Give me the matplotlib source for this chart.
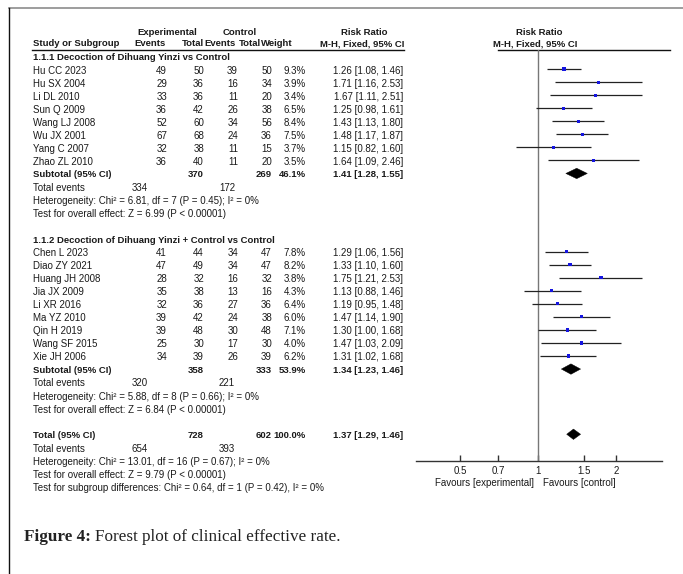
import matplotlib
matplotlib.use("Agg")
import matplotlib.pyplot as plt
import numpy as np

# ---- data ----
group1_title = "1.1.1 Decoction of Dihuang Yinzi vs Control"
g1_studies = ["Hu CC 2023", "Hu SX 2004", "Li DL 2010", "Sun Q 2009",
              "Wang LJ 2008", "Wu JX 2001", "Yang C 2007", "Zhao ZL 2010"]
g1_exp_events = [49, 29, 33, 36, 52, 67, 32, 36]
g1_exp_total = [50, 36, 36, 42, 60, 68, 38, 40]
g1_ctl_events = [39, 16, 11, 26, 34, 24, 11, 11]
g1_ctl_total = [50, 34, 20, 38, 56, 36, 15, 20]
g1_weight = [9.3, 3.9, 3.4, 6.5, 8.4, 7.5, 3.7, 3.5]
g1_rr = [1.26, 1.71, 1.67, 1.25, 1.43, 1.48, 1.15, 1.64]
g1_lo = [1.08, 1.16, 1.11, 0.98, 1.13, 1.17, 0.82, 1.09]
g1_hi = [1.46, 2.53, 2.51, 1.61, 1.80, 1.87, 1.60, 2.46]
g1_sub = (370, 269, 46.1, 1.41, 1.28, 1.55)
g1_events = (334, 172)
g1_het = "Heterogeneity: Chi\u00b2 = 6.81, df = 7 (P = 0.45); I\u00b2 = 0%"
g1_test = "Test for overall effect: Z = 6.99 (P < 0.00001)"

group2_title = "1.1.2 Decoction of Dihuang Yinzi + Control vs Control"
g2_studies = ["Chen L 2023", "Diao ZY 2021", "Huang JH 2008", "Jia JX 2009",
              "Li XR 2016", "Ma YZ 2010", "Qin H 2019", "Wang SF 2015", "Xie JH 2006"]
g2_exp_events = [41, 47, 28, 35, 32, 39, 39, 25, 34]
g2_exp_total = [44, 49, 32, 38, 36, 42, 48, 30, 39]
g2_ctl_events = [34, 34, 16, 13, 27, 24, 30, 17, 26]
g2_ctl_total = [47, 47, 32, 16, 36, 38, 48, 30, 39]
g2_weight = [7.8, 8.2, 3.8, 4.3, 6.4, 6.0, 7.1, 4.0, 6.2]
g2_rr = [1.29, 1.33, 1.75, 1.13, 1.19, 1.47, 1.30, 1.47, 1.31]
g2_lo = [1.06, 1.10, 1.21, 0.88, 0.95, 1.14, 1.00, 1.03, 1.02]
g2_hi = [1.56, 1.60, 2.53, 1.46, 1.48, 1.90, 1.68, 2.09, 1.68]
g2_sub = (358, 333, 53.9, 1.34, 1.23, 1.46)
g2_events = (320, 221)
g2_het = "Heterogeneity: Chi\u00b2 = 5.88, df = 8 (P = 0.66); I\u00b2 = 0%"
g2_test = "Test for overall effect: Z = 6.84 (P < 0.00001)"

total_sub = (728, 602, 100.0, 1.37, 1.29, 1.46)
total_events = (654, 393)
total_het = "Heterogeneity: Chi\u00b2 = 13.01, df = 16 (P = 0.67); I\u00b2 = 0%"
total_test = "Test for overall effect: Z = 9.79 (P < 0.00001)"
subgroup_test = "Test for subgroup differences: Chi\u00b2 = 0.64, df = 1 (P = 0.42), I\u00b2 = 0%"

tick_vals = [0.5, 0.7, 1, 1.5, 2]
tick_labels = ["0.5", "0.7", "1", "1.5", "2"]

# ---- layout (pixels) ----
W, H = 683, 574
ROW0, ROWH = 56.1, 13.04
FS = 7.0
FSB = 6.8
TXT = "#1a1a1a"
plt.rcParams["font.family"] = ["Liberation Sans", "DejaVu Sans"]


def ypx(r):
    return ROW0 + ROWH * r


fig = plt.figure(figsize=(W / 100, H / 100), dpi=100)
fig.patch.set_facecolor("white")
tx = fig.add_axes([0, 0, 1, 1])
tx.set_xlim(0, W)
tx.set_ylim(H, 0)
tx.axis("off")


def t(x, r, s, ha="left", bold=False, dy=1.4):
    tx.text(x, ypx(r) + dy, s, ha=ha, va="center",
            fontsize=FSB if bold else FS, color=TXT,
            fontweight="bold" if bold else "normal")


# frame
tx.plot([9, W], [7.5, 7.5], color="#8c8c8c", lw=1.2)
tx.plot([9, 9], [7.5, H], color="#111111", lw=1.0)

# headers
t(167, -1.9, "Experimental", ha="center", bold=True)
t(240, -1.9, "Control", ha="center", bold=True)
t(364, -1.9, "Risk Ratio", ha="center", bold=True)
t(539, -1.9, "Risk Ratio", ha="center", bold=True)
t(33, -1.05, "Study or Subgroup", bold=True)
t(166, -1.05, "Events", ha="right", bold=True)
t(204, -1.05, "Total", ha="right", bold=True)
t(236, -1.05, "Events", ha="right", bold=True)
t(261, -1.05, "Total", ha="right", bold=True)
t(293, -1.05, "Weight", ha="right", bold=True)
t(404, -1.05, "M-H, Fixed, 95% CI", ha="right", bold=True)
t(535, -1.05, "M-H, Fixed, 95% CI", ha="center", bold=True)
tx.plot([32, 404], [49.6, 49.6], color="#111111", lw=1.0)
tx.plot([498, 670], [49.6, 49.6], color="#111111", lw=1.0)

# columns
COLS = [167, 204, 238, 272, 306]
CI_X = 403


def study_rows(r0, names, ee, et, ce, ct, wt, rr, lo, hi):
    for i, nm in enumerate(names):
        r = r0 + i
        t(33, r, nm)
        for x, v in zip(COLS, [ee[i], et[i], ce[i], ct[i]]):
            t(x, r, str(v), ha="right")
        t(COLS[4], r, f"{wt[i]:.1f}%", ha="right")
        t(CI_X, r, f"{rr[i]:.2f} [{lo[i]:.2f}, {hi[i]:.2f}]", ha="right")


def summary_rows(r, label, sub, events, het, test):
    t(33, r, label, bold=True)
    t(COLS[1], r, str(sub[0]), ha="right", bold=True)
    t(COLS[3], r, str(sub[1]), ha="right", bold=True)
    t(COLS[4], r, f"{sub[2]:.1f}%", ha="right", bold=True)
    t(CI_X, r, f"{sub[3]:.2f} [{sub[4]:.2f}, {sub[5]:.2f}]", ha="right", bold=True)
    t(33, r + 1, "Total events")
    t(148, r + 1, str(events[0]), ha="right")
    t(235, r + 1, str(events[1]), ha="right")
    t(33, r + 2, het)
    t(33, r + 3, test)


t(33, 0, group1_title, bold=True)
study_rows(1, g1_studies, g1_exp_events, g1_exp_total, g1_ctl_events,
           g1_ctl_total, g1_weight, g1_rr, g1_lo, g1_hi)
summary_rows(9, "Subtotal (95% CI)", g1_sub, g1_events, g1_het, g1_test)

t(33, 14, group2_title, bold=True)
study_rows(15, g2_studies, g2_exp_events, g2_exp_total, g2_ctl_events,
           g2_ctl_total, g2_weight, g2_rr, g2_lo, g2_hi)
summary_rows(24, "Subtotal (95% CI)", g2_sub, g2_events, g2_het, g2_test)

summary_rows(29, "Total (95% CI)", total_sub, total_events, total_het, total_test)
t(33, 33, subgroup_test)

# ---- forest panel ----
ax_left, ax_right = 416, 662
ax_top, ax_bot = 49.6, 460.7
fx = fig.add_axes([ax_left / W, 1 - ax_bot / H, (ax_right - ax_left) / W,
                   (ax_bot - ax_top) / H])
fx.patch.set_alpha(0)
fx.set_xscale("log")
fx.set_xlim(0.338, 3.01)
r_top = (ax_top - ROW0) / ROWH
r_bot = (ax_bot - ROW0) / ROWH
fx.set_ylim(r_bot, r_top)
for s in ["top", "right", "left"]:
    fx.spines[s].set_visible(False)
fx.spines["bottom"].set_color("#333333")
fx.spines["bottom"].set_linewidth(1.0)
fx.set_yticks([])
fx.set_xticks(tick_vals)
fx.set_xticklabels(tick_labels)
fx.xaxis.set_minor_locator(matplotlib.ticker.NullLocator())
fx.tick_params(axis="x", direction="in", length=4, width=1, color="#333333",
               labelsize=FS, labelcolor=TXT, pad=3.5)
fx.axvline(1, color="#777777", lw=1.0)


def draw_studies(r0, rr, lo, hi, wt):
    rows = np.arange(r0, r0 + len(rr))
    fx.hlines(rows, lo, hi, color="#222222", lw=0.9)
    fx.scatter(rr, rows, marker="s", s=[4 + 0.2 * w for w in wt],
               color="#1515e0", zorder=3, linewidths=0)


def draw_diamond(r, sub):
    est, lo, hi = sub[3], sub[4], sub[5]
    fx.fill([lo, est, hi, est], [r, r - 0.4, r, r + 0.4], color="black", lw=0.3)


draw_studies(1, g1_rr, g1_lo, g1_hi, g1_weight)
draw_diamond(9, g1_sub)
draw_studies(15, g2_rr, g2_lo, g2_hi, g2_weight)
draw_diamond(24, g2_sub)
draw_diamond(29, total_sub)

tx.text(534, 482.5, "Favours [experimental]", ha="right", va="center",
        fontsize=FS, color=TXT)
tx.text(543, 482.5, "Favours [control]", ha="left", va="center",
        fontsize=FS, color=TXT)

# ---- caption ----
CAP_FS = 12.3
cap1 = tx.text(24, 537, "Figure 4:", ha="left", va="center", fontsize=CAP_FS,
               family="Liberation Serif", fontweight="bold", color="#222222")
fig.canvas.draw()
bb = cap1.get_window_extent().transformed(tx.transData.inverted())
tx.text(bb.x1 + 4, 537, "Forest plot of clinical effective rate.", ha="left",
        va="center", fontsize=CAP_FS, family="Liberation Serif", color="#222222")

fig.savefig("out.png", dpi=100)
